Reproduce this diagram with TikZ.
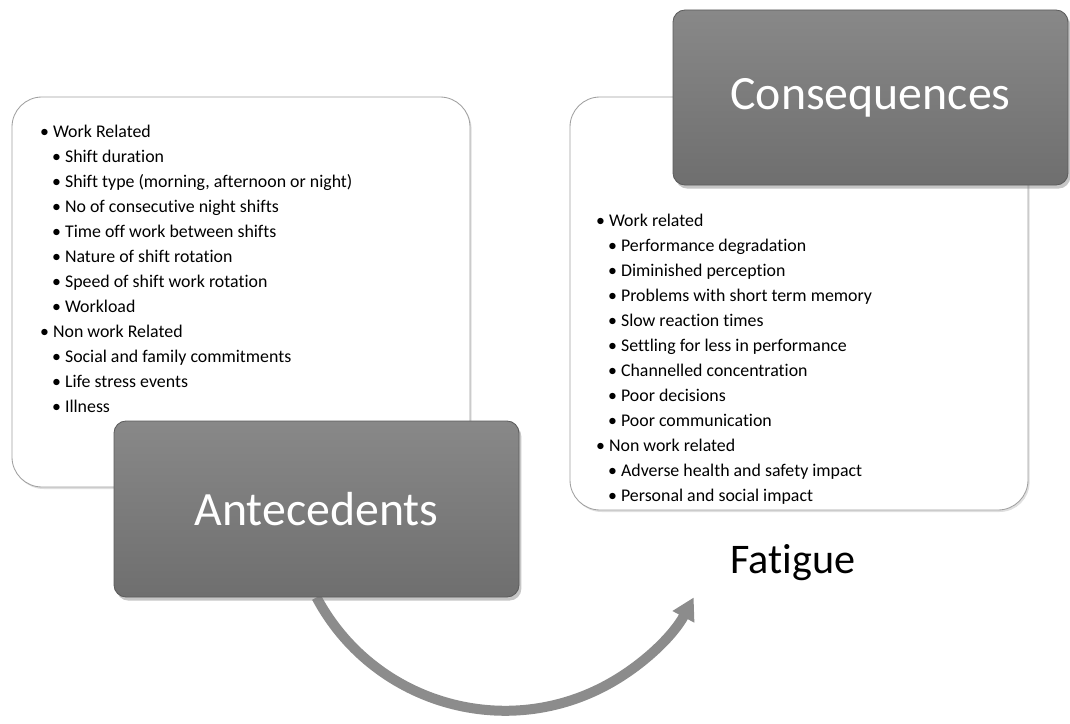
\documentclass[tikz,border=0pt]{standalone}
\usepackage{fontspec}
\setmainfont{Carlito}[Ligatures={NoCommon}]
\usepackage{tikz}
\usetikzlibrary{arrows.meta}
\usetikzlibrary{calc}
\usetikzlibrary{positioning,shadows,backgrounds}
\usepackage{color}
\definecolor{boxgray}{HTML}{7B7B7B}
\definecolor{edgegray}{HTML}{A0A0A0}
\definecolor{arrowgray}{HTML}{8C8C8C}

\begin{document}
\begin{tikzpicture}[thick,
    listbox/.style={draw=edgegray, fill=white, rounded corners=0.75cm, line width=0.6pt,
      drop shadow={opacity=0.25, shadow xshift=0.04cm, shadow yshift=-0.05cm}},
    titlebox/.style={draw=boxgray!75!black, top color=boxgray!90!white, bottom color=boxgray!90!black,
      rounded corners=0.3cm, line width=0.6pt, text=white, font=\fontsize{34}{40}\selectfont,
      drop shadow={opacity=0.45, shadow xshift=0.06cm, shadow yshift=-0.09cm}},
    listtext/.style={align=left, inner sep=0pt, font=\fontsize{12.7}{17.8}\selectfont},
    flow/.style={line width=0.25cm, arrowgray, -{Triangle[length=0.55cm, width=0.58cm]}}]
  \useasboundingbox (0,0) rectangle (26.75,-18.1);
  \newcommand{\sub}{\hspace*{0.3cm}}
  \node[listbox, minimum width=11.45cm, minimum height=9.75cm] (antelist) at (6.025,-7.3) {};
  \node[listbox, minimum width=11.45cm, minimum height=10.325cm] (conslist) at (19.975,-7.5875) {};
  \node[listtext, anchor=north west] (antetext) at ([shift={(0.7,-0.7)}]antelist.north west) {%
    \textbullet\ Work Related\\
    \sub\textbullet\ Shift duration\\
    \sub\textbullet\ Shift type (morning, afternoon or night)\\
    \sub\textbullet\ No of consecutive night shifts\\
    \sub\textbullet\ Time off work between shifts\\
    \sub\textbullet\ Nature of shift rotation\\
    \sub\textbullet\ Speed of shift work rotation\\
    \sub\textbullet\ Workload\\
    \textbullet\ Non work Related\\
    \sub\textbullet\ Social and family commitments\\
    \sub\textbullet\ Life stress events\\
    \sub\textbullet\ Illness};
  \node[listtext, anchor=north west] (constext) at ([shift={(0.65,-2.92)}]conslist.north west) {%
    \textbullet\ Work related\\
    \sub\textbullet\ Performance degradation\\
    \sub\textbullet\ Diminished perception\\
    \sub\textbullet\ Problems with short term memory\\
    \sub\textbullet\ Slow reaction times\\
    \sub\textbullet\ Settling for less in performance\\
    \sub\textbullet\ Channelled concentration\\
    \sub\textbullet\ Poor decisions\\
    \sub\textbullet\ Poor communication\\
    \textbullet\ Non work related\\
    \sub\textbullet\ Adverse health and safety impact\\
    \sub\textbullet\ Personal and social impact};
  \node[titlebox, minimum width=10.125cm, minimum height=4.4cm] (ante) at (7.9125,-12.725) {Antecedents};
  \node[titlebox, minimum width=9.875cm, minimum height=4.375cm] (cons) at (21.7625,-2.4375) {Consequences};
  \node[font=\fontsize{30}{36}\selectfont] (fatigue) at (19.825,-14.075) {Fatigue};
  \begin{scope}[on background layer]
    \draw[flow] (ante.south) arc[start angle=208, end angle=332, radius=5.34cm] coordinate (tip);
  \end{scope}
\end{tikzpicture}
\end{document}
